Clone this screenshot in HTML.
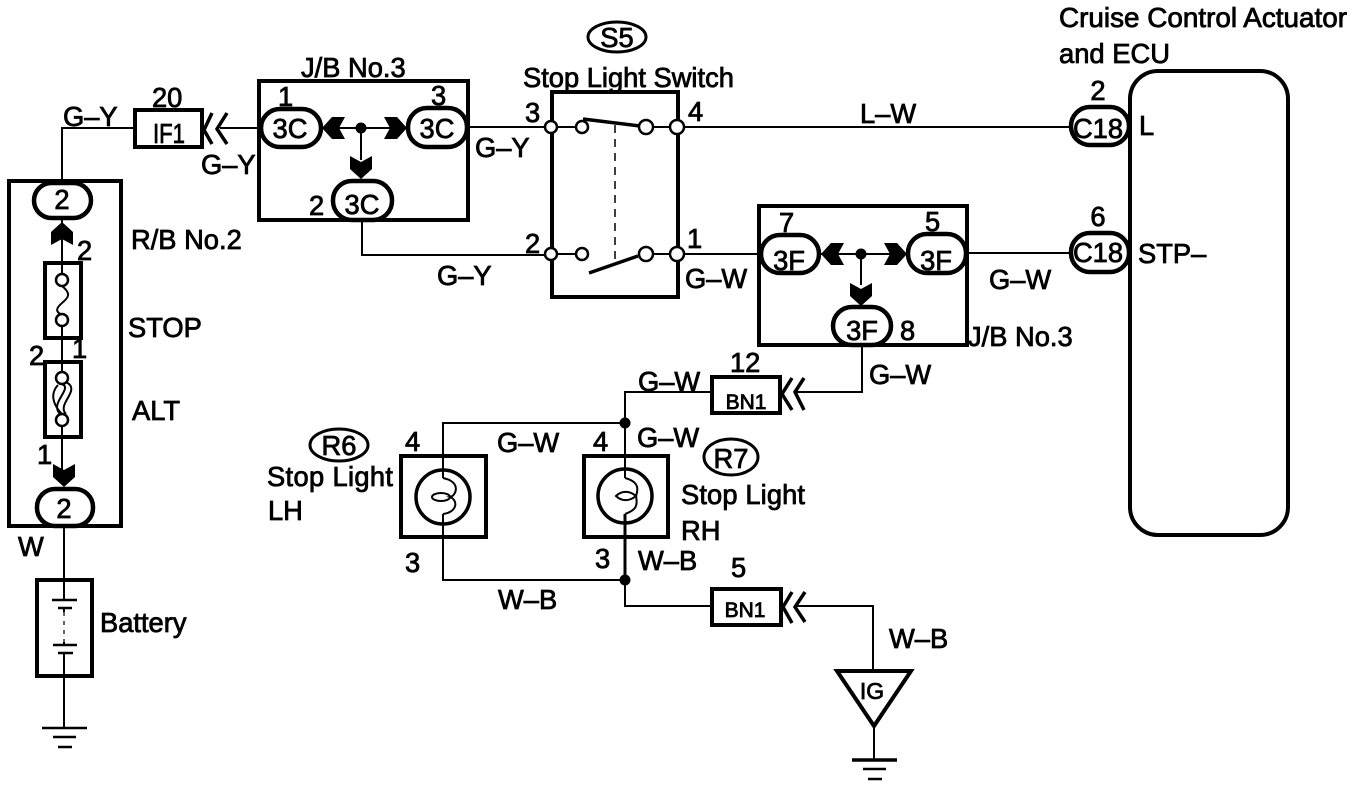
<!DOCTYPE html>
<html>
<head>
<meta charset="utf-8">
<style>
html,body{margin:0;padding:0;background:#fff;}
svg{display:block;}
text{font-family:"Liberation Sans",Arial,sans-serif;font-size:27.3px;fill:#000;stroke:#000;stroke-width:.8px;}
.m{text-anchor:middle;}
.s{font-size:21px;}
.b{fill:none;stroke:#000;stroke-width:4;}
.w{fill:none;stroke:#000;stroke-width:2;}
.t{fill:#fff;stroke:#000;stroke-width:2.5;}
.c{fill:none;stroke:#000;stroke-width:3.5;}
.o{fill:#fff;stroke:#000;stroke-width:4.5;}
</style>
</head>
<body>
<svg width="1360" height="786" viewBox="0 0 1360 786" xmlns="http://www.w3.org/2000/svg">
<rect width="1360" height="786" fill="#fff"/>
<defs>
<path id="a" d="M0 0L11 -10L11 -23L0 -17L-11 -23L-11 -10Z" fill="#000"/>
</defs>

<!-- Wires -->
<g class="w">
<path d="M62 180V128H134"/>
<path d="M220 128H260"/>
<path d="M64 527V579M64 676V728M64 579V600M64 608V612M64 642V645M64 653V676"/>
<path d="M62 218V286M62 315V378M62 420V470"/>
<path d="M321 128H407M361 128V160"/>
<path d="M468 127H551M362 220V255H551"/>
<path d="M677 127H1070M677 254H760M968 253H1070"/>
<path d="M551 127H582M646 127H677M551 254H582M646 254H677"/>
<path d="M819 254H907M861 254V285"/>
<path d="M862 346V392H795"/>
<path d="M711 392H625V478M625 423H443V478"/>
<path d="M443 514V580H625"/>
<path d="M625 514V606H711"/>
<path d="M795 606H873V670"/>
<path d="M874 726V760"/>
</g>

<!-- Left relay block -->
<rect class="b" x="9" y="181" width="112" height="345"/>
<rect class="o" x="34" y="183" width="57" height="35" rx="17.5"/>
<use href="#a" transform="translate(62,222) rotate(180)"/>
<rect class="b" x="45" y="263" width="36" height="75" stroke-width="3"/>
<path class="w" stroke-width="2.5" d="M62 286C72 294 68 298 62 303C55 309 56 312 62 315"/>
<circle class="t" cx="62" cy="280" r="6"/>
<circle class="t" cx="62" cy="320" r="6"/>
<rect class="b" x="45" y="362" width="36" height="75" stroke-width="3"/>
<path class="w" stroke-width="2.5" d="M58 383C78 386 48 402 60 414M66 382C82 390 56 404 66 414M58 385C48 396 56 408 62 414"/>
<circle class="t" cx="62" cy="378" r="6"/>
<circle class="t" cx="62" cy="420" r="6"/>
<use href="#a" transform="translate(64,487)"/>
<rect class="o" x="37" y="489" width="56" height="37" rx="18"/>

<!-- Battery -->
<rect class="b" x="37" y="580" width="55" height="96"/>
<path d="M52 600H77M58 608H72M53 645H77M58 653H73" stroke="#000" stroke-width="2.5" fill="none"/>
<path d="M64 612V642" stroke="#000" stroke-width="1.2" stroke-dasharray="4 5" fill="none"/>
<path d="M42 728H87M53 737H76M58 747H72" stroke="#000" stroke-width="2.5" fill="none"/>

<!-- IF1 -->
<rect class="b" x="135" y="110" width="67" height="37"/>
<path class="c" d="M212 113L204 130L212 144M227 113L217 129L227 144"/>

<!-- J/B 1 -->
<rect class="b" x="259" y="81" width="209" height="139"/>
<rect class="o" x="261" y="109" width="60" height="38" rx="19"/>
<rect class="o" x="408" y="108" width="59" height="39" rx="19"/>
<rect class="o" x="333" y="181" width="59" height="39" rx="19"/>
<circle cx="361" cy="128" r="5.5"/>
<use href="#a" transform="translate(322,128) rotate(90)"/>
<use href="#a" transform="translate(407,128) rotate(-90)"/>
<use href="#a" transform="translate(361,179)"/>

<!-- Switch -->
<rect class="b" x="552" y="92" width="126" height="205"/>
<path d="M583 119L640 126M589 273L638 256" stroke="#000" stroke-width="3.5" fill="none"/>
<path d="M615 125V263" stroke="#000" stroke-width="1.5" stroke-dasharray="8 6" fill="none"/>
<g>
<circle class="t" cx="551" cy="127" r="6"/>
<circle class="t" cx="582" cy="127" r="6"/>
<circle class="t" cx="646" cy="127" r="7"/>
<circle class="t" cx="677" cy="127" r="7"/>
<circle class="t" cx="551" cy="254" r="6"/>
<circle class="t" cx="582" cy="254" r="6"/>
<circle class="t" cx="646" cy="254" r="7"/>
<circle class="t" cx="677" cy="254" r="7"/>
</g>

<!-- J/B 2 -->
<rect class="b" x="759" y="206" width="208" height="139"/>
<rect class="o" x="761" y="235" width="58" height="38" rx="19"/>
<rect class="o" x="908" y="234" width="58" height="39" rx="19"/>
<rect class="o" x="833" y="307" width="58" height="38" rx="19"/>
<circle cx="861" cy="254" r="5.5"/>
<use href="#a" transform="translate(821,254) rotate(90)"/>
<use href="#a" transform="translate(907,254) rotate(-90)"/>
<use href="#a" transform="translate(861,306)"/>

<!-- BN1 upper -->
<rect class="b" x="712" y="377" width="68" height="36"/>
<path class="c" d="M792 378L782 394L792 410M804 378L795 392L804 410"/>

<!-- Lamps -->
<rect class="b" x="401" y="456" width="85" height="81"/>
<circle cx="443" cy="497" r="27" fill="none" stroke="#000" stroke-width="3.5"/>
<ellipse cx="441" cy="497" rx="9" ry="4" fill="none" stroke="#000" stroke-width="2"/>
<path class="w" d="M443 478C462 482 456 496 450 497C458 500 458 512 443 514"/>
<rect class="b" x="584" y="456" width="84" height="81"/>
<circle cx="625" cy="496" r="27" fill="none" stroke="#000" stroke-width="3.5"/>
<path class="w" d="M616 496C622 490 630 491 636 496C630 501 622 502 616 496Z"/>
<path class="w" d="M625 478C640 482 638 490 636 496C638 506 636 510 625 514"/>
<path d="M625 514V580" stroke="#000" stroke-width="3" fill="none"/>
<circle cx="625" cy="423" r="5.5"/>
<circle cx="625" cy="580" r="5.5"/>

<!-- BN1 lower -->
<rect class="b" x="712" y="589" width="69" height="36"/>
<path class="c" d="M792 592L783 607L792 623M805 592L795 607L805 622"/>

<!-- IG -->
<path d="M837 671H911L874 726Z" fill="#fff" stroke="#000" stroke-width="4"/>
<path d="M852 760H897" stroke="#000" stroke-width="3.5" fill="none"/>
<path d="M863 769H886M868 779H882" stroke="#000" stroke-width="2.5" fill="none"/>

<!-- ECU -->
<rect class="b" x="1130" y="71" width="158" height="464" rx="28"/>
<rect class="o" x="1071" y="107" width="58" height="38" rx="19"/>
<rect class="o" x="1071" y="233" width="58" height="39" rx="19"/>

<!-- Call-out ellipses -->
<ellipse cx="617" cy="37" rx="29" ry="15" fill="none" stroke="#000" stroke-width="3"/>
<ellipse cx="339" cy="445" rx="29" ry="16" fill="none" stroke="#000" stroke-width="3"/>
<ellipse cx="731" cy="457" rx="27" ry="18" fill="none" stroke="#000" stroke-width="3"/>

<!-- Labels -->
<text x="63" y="126">G–Y</text>
<text x="152" y="107">20</text>
<text x="153" y="143" textLength="32" lengthAdjust="spacingAndGlyphs">IF1</text>
<text x="201" y="174">G–Y</text>
<text x="131" y="249">R/B No.2</text>
<text class="m" x="62" y="209">2</text>
<text x="77" y="260">2</text>
<text x="128" y="337">STOP</text>
<text x="29" y="365">2</text>
<text x="72" y="358">1</text>
<text x="132" y="420">ALT</text>
<text x="37" y="464">1</text>
<text class="m" x="64" y="518">2</text>
<text x="18" y="556">W</text>
<text x="100" y="632">Battery</text>

<text x="301" y="77">J/B No.3</text>
<text x="278" y="106">1</text>
<text x="431" y="105">3</text>
<text class="m" x="290" y="138">3C</text>
<text class="m" x="437" y="138">3C</text>
<text class="m" x="362" y="214">3C</text>
<text x="309" y="215">2</text>
<text x="475" y="157">G–Y</text>
<text x="437" y="285">G–Y</text>

<text class="m" x="617" y="47">S5</text>
<text x="523" y="87">Stop Light Switch</text>
<text x="525" y="122">3</text>
<text x="688" y="121">4</text>
<text x="525" y="253">2</text>
<text x="687" y="248">1</text>
<text x="685" y="288">G–W</text>
<text x="860" y="123">L–W</text>

<text x="779" y="232">7</text>
<text x="925" y="231">5</text>
<text class="m" x="789" y="270">3F</text>
<text class="m" x="936" y="270">3F</text>
<text class="m" x="862" y="340">3F</text>
<text x="900" y="340">8</text>
<text x="968" y="346">J/B No.3</text>
<text x="989" y="289">G–W</text>
<text x="869" y="384">G–W</text>
<text x="730" y="372">12</text>
<text class="m s" x="746" y="409">BN1</text>
<text x="638" y="391">G–W</text>

<text class="m" x="339" y="455">R6</text>
<text x="267" y="486" textLength="126">Stop Light</text>
<text x="268" y="520">LH</text>
<text x="405" y="451">4</text>
<text x="405" y="572">3</text>
<text x="497" y="452">G–W</text>
<text x="498" y="609">W–B</text>

<text x="593" y="451">4</text>
<text x="637" y="447">G–W</text>
<text class="m" x="731" y="468">R7</text>
<text x="681" y="504" textLength="124">Stop Light</text>
<text x="681" y="540">RH</text>
<text x="595" y="568">3</text>
<text x="638" y="570">W–B</text>
<text x="731" y="577">5</text>
<text class="m s" x="745" y="617">BN1</text>
<text x="889" y="648">W–B</text>
<text class="m" x="872" y="699" style="font-size:23px">IG</text>

<text x="1059" y="27" textLength="288" lengthAdjust="spacingAndGlyphs">Cruise Control Actuator</text>
<text x="1059" y="63" textLength="111" lengthAdjust="spacingAndGlyphs">and ECU</text>
<text class="m" x="1098" y="100">2</text>
<text class="m" x="1098" y="138">C18</text>
<text x="1139" y="135">L</text>
<text class="m" x="1098" y="226">6</text>
<text class="m" x="1098" y="262">C18</text>
<text x="1138" y="263">STP–</text>
</svg>
</body>
</html>
